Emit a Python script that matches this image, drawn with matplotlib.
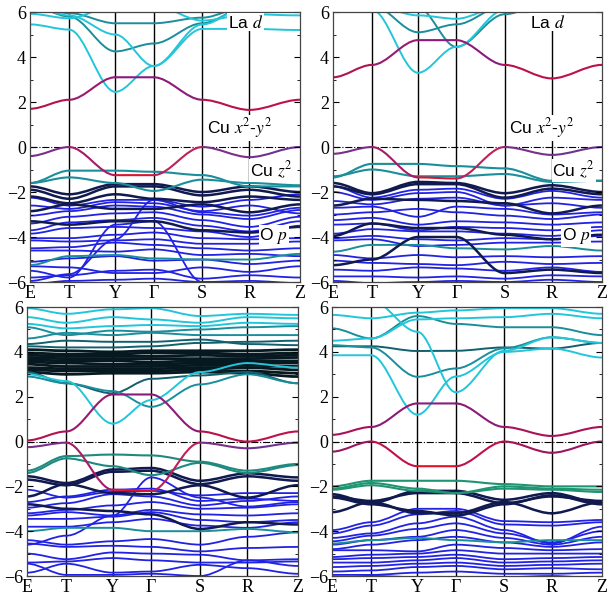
import matplotlib
matplotlib.use('Agg')
import matplotlib.pyplot as plt
from matplotlib.path import Path
from matplotlib.patches import PathPatch

plt.rcParams['mathtext.fontset'] = 'stix'

# high symmetry points along the path (fraction of path length)
kpos = [0.0, 0.145, 0.316, 0.458, 0.638, 0.813, 1.0]
klabels = ['E', 'T', 'Y', 'Γ', 'S', 'R', 'Z']

# colours for the orbital characters
col_cyan = '#22c6da'
col_teal = '#1a8e9a'
col_dteal = '#12606e'
col_navy = '#101a4e'
col_blue = '#2222e4'
col_green = '#1e9470'
col_black = '#061820'

# ---------------- panel (a) ----------------
a_cyan = [[5.92, 5.72, 6.3, 6.3, 5.62, 5.9, 5.85],
          [5.45, 5.22, 2.45, 3.6, 5.25, 5.25, 5.2],
          [6.3, 5.85, 5.0, 3.6, 5.45, 6.3, 6.3]]
a_teal = [[6.3, 5.8, 4.25, 4.6, 5.5, 6.3, 6.3],
          [6.3, 5.95, 5.5, 5.5, 5.75, 6.3, 6.3]]
a_cu_up = [1.7, 2.1, 3.1, 3.1, 2.1, 1.65, 2.1]
a_cu_dn = [-0.4, 0.0, -1.25, -1.25, 0.0, -0.45, 0.0]
a_z2 = [[-1.6, -1.05, -1.05, -1.1, -1.25, -1.75, -1.75],
        [-1.6, -1.35, -1.6, -1.95, -1.45, -1.6, -1.7]]
a_navy = [[-1.75, -2.1, -1.65, -1.65, -2.0, -1.75, -2.0],
          [-1.9, -2.3, -1.75, -1.75, -2.15, -1.9, -2.2],
          [-2.2, -2.5, -2.1, -2.3, -2.45, -2.2, -2.35],
          [-2.85, -2.55, -2.75, -2.75, -2.55, -2.9, -2.55],
          [-3.3, -3.45, -3.3, -3.3, -3.7, -3.8, -3.55]]
a_blue = [[-2.25, -2.6, -2.35, -2.35, -2.65, -2.35, -2.1],
          [-2.6, -2.75, -2.45, -2.5, -2.85, -2.6, -2.95],
          [-3.05, -2.85, -2.6, -2.65, -3.0, -3.2, -2.8],
          [-3.4, -3.1, -2.95, -2.9, -3.25, -3.55, -3.1],
          [-3.7, -3.35, -3.25, -3.15, -3.5, -3.75, -3.3],
          [-3.85, -3.6, -3.55, -3.6, -3.75, -4.0, -3.5],
          [-4.05, -4.05, -3.9, -3.8, -4.05, -4.1, -4.05],
          [-4.15, -4.2, -4.15, -4.1, -4.3, -4.3, -4.2],
          [-4.5, -4.45, -4.25, -4.35, -4.5, -4.6, -4.5],
          [-4.6, -4.6, -4.65, -4.55, -4.8, -4.75, -4.85],
          [-5.1, -4.95, -4.85, -5.05, -5.0, -5.2, -5.05],
          [-5.3, -5.35, -5.6, -5.6, -5.35, -5.55, -5.3],
          [-5.8, -5.7, -5.5, -5.45, -5.85, -5.7, -5.8],
          [-6.1, -5.95, -5.9, -5.85, -6.0, -5.95, -6.05],
          [-5.95, -5.65, -4.1, -2.35, -2.9, -3.05, -2.7],
          [-5.5, -5.8, -3.45, -3.3, -6.0, -6.1, -6.1]]
a_teal_low = [[-5.25, -4.85, -4.8, -4.95, -5.0, -5.0, -4.75]]

# ---------------- panel (b) ----------------
b_cyan = [[6.4, 6.1, 3.3, 4.45, 6.1, 6.5, 6.5],
          [6.4, 6.3, 5.85, 5.7, 6.3, 6.5, 6.5]]
b_teal = [[6.4, 6.3, 5.1, 5.45, 6.3, 6.5, 6.5],
          [6.5, 6.5, 6.2, 4.45, 5.9, 6.5, 6.5]]
b_cu_up = [3.1, 3.65, 4.75, 4.75, 3.65, 3.05, 3.65]
b_cu_dn = [-0.3, 0.0, -1.35, -1.4, 0.0, -0.35, 0.0]
b_z2 = [[-1.35, -0.75, -0.75, -0.85, -0.95, -1.5, -1.5],
        [-1.3, -1.0, -1.3, -1.3, -1.2, -1.55, -1.5]]
b_navy = [[-1.6, -2.05, -1.55, -1.6, -2.05, -1.7, -2.0],
          [-1.75, -2.1, -1.65, -1.65, -2.25, -1.85, -2.1],
          [-2.6, -2.3, -2.35, -2.4, -2.5, -2.95, -2.6],
          [-3.95, -3.4, -3.6, -3.6, -3.9, -4.1, -3.9],
          [-5.25, -5.0, -4.0, -4.0, -5.6, -5.45, -5.6]]
b_blue = [[-1.75, -2.25, -1.9, -1.85, -2.3, -1.95, -2.25],
          [-2.0, -2.35, -2.05, -2.0, -2.6, -2.25, -2.35],
          [-2.4, -2.55, -2.3, -2.25, -2.6, -2.5, -2.7],
          [-2.7, -2.65, -3.1, -2.65, -2.75, -3.0, -2.9],
          [-3.0, -2.9, -2.75, -2.9, -3.05, -3.2, -3.0],
          [-3.25, -3.15, -3.45, -3.3, -3.35, -3.45, -3.35],
          [-3.45, -3.4, -3.7, -3.55, -3.6, -3.7, -3.55],
          [-3.85, -3.65, -3.75, -3.75, -3.85, -3.95, -3.7],
          [-4.05, -3.95, -4.1, -4.15, -4.05, -4.1, -3.95],
          [-4.15, -4.1, -4.4, -4.35, -4.25, -4.25, -4.2],
          [-4.8, -4.95, -4.8, -4.9, -4.85, -4.9, -4.85],
          [-5.05, -5.15, -5.2, -5.25, -5.1, -5.2, -5.15],
          [-5.45, -5.5, -5.35, -5.4, -5.5, -5.35, -5.55],
          [-5.75, -5.75, -5.8, -5.75, -5.85, -5.7, -5.75],
          [-5.95, -6.05, -6.0, -5.95, -6.0, -5.9, -6.0]]
b_teal_low = [[-4.65, -4.35, -4.35, -4.5, -4.55, -4.4, -4.6]]

# ---------------- panel (c) ----------------
c_black = [[4.1, 4.05, 4.0, 4.05, 4.05, 4.05, 4.1],
           [3.95, 3.9, 3.9, 3.95, 3.95, 3.9, 3.95],
           [3.85, 3.8, 3.8, 3.8, 3.85, 3.8, 3.85],
           [3.75, 3.7, 3.7, 3.7, 3.7, 3.7, 3.75],
           [3.65, 3.6, 3.6, 3.55, 3.6, 3.6, 3.6],
           [3.55, 3.5, 3.45, 3.45, 3.5, 3.5, 3.5],
           [3.45, 3.35, 3.35, 3.35, 3.4, 3.4, 3.35],
           [3.3, 3.25, 3.25, 3.25, 3.3, 3.3, 3.2],
           [3.2, 3.15, 3.15, 3.15, 3.2, 3.15, 3.05],
           [3.1, 3.0, 3.05, 3.05, 3.1, 3.05, 2.9]]
c_cyan = [[5.95, 5.7, 5.9, 5.95, 5.6, 5.7, 5.65],
          [5.55, 5.3, 5.55, 5.45, 5.3, 5.55, 5.5],
          [5.25, 5.05, 5.15, 5.2, 5.15, 5.3, 5.25],
          [3.0, 2.7, 0.8, 1.85, 3.1, 3.5, 3.3]]
c_teal = [[5.1, 4.75, 4.95, 4.9, 5.0, 5.1, 5.15],
          [4.6, 4.85, 4.75, 4.85, 4.75, 4.75, 4.75],
          [2.9, 2.6, 2.25, 1.55, 2.55, 3.0, 2.6]]
c_dteal = [[4.35, 4.5, 4.45, 4.45, 4.55, 4.35, 4.3],
           [4.25, 4.2, 4.2, 4.25, 4.4, 4.45, 4.5],
           [3.1, 2.6, 2.15, 2.8, 2.95, 3.1, 2.6]]
c_cu_up = [0.05, 0.45, 2.1, 2.1, 0.45, 0.0, 0.45]
c_cu_dn = [-0.25, -0.05, -2.15, -2.2, -0.05, -0.3, -0.05]
c_z2 = [[-1.3, -0.65, -0.58, -0.62, -0.9, -1.3, -1.0],
        [-1.4, -0.75, -1.1, -1.5, -0.95, -1.4, -1.05]]
c_navy = [[-1.55, -1.85, -1.25, -1.18, -1.75, -1.42, -1.6],
          [-1.7, -1.95, -1.35, -1.3, -1.9, -1.55, -1.75],
          [-2.45, -1.9, -2.3, -2.35, -1.95, -2.5, -1.95],
          [-2.8, -3.0, -3.1, -3.25, -3.9, -3.6, -3.7]]
c_blue = [[-2.15, -2.5, -2.25, -2.2, -2.4, -2.3, -2.3],
          [-2.7, -2.45, -2.15, -2.1, -2.65, -2.55, -2.65],
          [-2.95, -2.75, -2.35, -2.45, -2.85, -2.65, -2.45],
          [-3.2, -3.05, -2.85, -2.7, -3.0, -2.95, -2.8],
          [-3.3, -3.15, -3.3, -3.05, -3.25, -3.3, -3.2],
          [-3.45, -3.45, -3.35, -3.15, -3.5, -3.6, -3.5],
          [-3.8, -3.8, -3.6, -3.45, -3.75, -3.85, -3.6],
          [-4.4, -4.6, -4.45, -4.35, -4.6, -4.25, -4.05],
          [-4.55, -4.7, -4.65, -4.7, -4.9, -4.75, -4.7],
          [-5.0, -5.25, -4.95, -5.0, -5.05, -5.3, -5.25],
          [-5.4, -5.35, -5.2, -5.3, -5.4, -5.4, -5.35],
          [-5.45, -5.95, -5.95, -5.9, -6.0, -5.3, -5.55],
          [-5.85, -5.45, -5.85, -5.8, -5.5, -5.65, -5.9],
          [-4.6, -4.2, -3.3, -1.6, -2.5, -2.9, -2.7]]
c_teal_low = [[-4.0, -3.85, -3.85, -4.0, -4.0, -3.9, -4.05]]

# ---------------- panel (d) ----------------
d_cyan = [[5.65, 5.5, 5.75, 5.85, 5.95, 5.95, 5.7],
          [4.5, 4.6, 5.45, 5.5, 5.55, 5.7, 5.5],
          [3.85, 3.85, 1.2, 2.9, 4.0, 4.15, 3.75],
          [6.3, 6.3, 4.9, 2.2, 4.05, 4.65, 4.4]]
d_teal = [[5.05, 4.6, 5.6, 5.25, 5.1, 5.1, 4.75],
          [4.3, 4.2, 2.89, 3.26, 4.16, 4.65, 4.4]]
d_dteal = [[4.25, 4.25, 4.04, 4.05, 4.2, 4.15, 4.4]]
d_cu_up = [0.3, 0.65, 1.7, 1.7, 0.65, 0.25, 0.65]
d_cu_dn = [-0.45, 0.0, -1.1, -1.1, 0.0, -0.5, 0.0]
d_z2 = [[-2.0, -1.75, -1.75, -1.75, -1.9, -2.0, -2.0],
        [-2.1, -1.85, -2.1, -2.3, -2.0, -2.1, -2.15],
        [-2.15, -1.95, -2.2, -2.3, -2.1, -2.15, -2.25]]
d_navy = [[-2.35, -2.75, -2.2, -2.2, -2.6, -2.3, -2.75],
          [-2.45, -2.65, -2.3, -2.3, -2.75, -2.45, -2.65],
          [-3.15, -2.7, -3.2, -3.2, -2.7, -3.2, -2.7],
          [-2.5, -2.8, -3.1, -3.3, -2.8, -2.4, -2.8]]
d_blue = [[-3.95, -3.6, -3.0, -3.0, -3.55, -3.6, -3.5],
          [-4.1, -3.75, -3.25, -3.1, -3.7, -3.75, -3.6],
          [-4.3, -4.1, -3.65, -3.35, -3.95, -4.55, -3.8],
          [-4.45, -4.2, -3.9, -3.65, -4.1, -4.5, -4.0],
          [-4.6, -4.4, -4.25, -3.95, -4.3, -4.6, -4.25],
          [-4.8, -4.6, -4.4, -4.25, -4.5, -4.7, -4.5],
          [-4.85, -4.85, -4.9, -4.6, -4.75, -4.85, -4.8],
          [-5.15, -5.05, -5.0, -4.85, -5.0, -5.0, -5.0],
          [-5.25, -5.2, -5.15, -5.05, -5.25, -5.2, -5.15],
          [-5.4, -5.4, -5.3, -5.2, -5.4, -5.35, -5.3],
          [-5.6, -5.55, -5.45, -5.4, -5.55, -5.5, -5.45],
          [-5.8, -5.75, -5.6, -5.55, -5.7, -5.65, -5.7],
          [-5.95, -5.95, -5.85, -5.8, -5.9, -5.9, -5.85],
          [-6.1, -6.0, -6.05, -6.1, -6.05, -6.0, -6.1]]
d_teal_low = [[-4.55, -4.4, -4.3, -4.4, -4.5, -4.4, -4.4]]

# segment colours of the two Cu bands (E-T, T-Y, Y-G, G-S, S-R, R-Z)
cu_up_cols = ['#b0144e', '#9a1a6e', '#8a1a80', '#8e1a7a', '#b81248', '#c0104a']
cu_dn_cols = ['#7a2f88', '#a81a66', '#e01030', '#c0205a', '#7a2f88', '#6c3490']
d_cu_up_cols = ['#a8125a', '#8e1a78', '#84207f', '#8e1a78', '#a8125a', '#a8125a']
d_cu_dn_cols = ['#9a1660', '#c01248', '#e81020', '#c01248', '#a01458', '#9a1660']


def seg_path(x0, x1, e0, e1):
    # smooth segment, flat at the high-symmetry points
    d = (x1 - x0) / 3.0
    return Path([(x0, e0), (x0 + d, e0), (x1 - d, e1), (x1, e1)],
                [Path.MOVETO, Path.CURVE4, Path.CURVE4, Path.CURVE4])


def draw_band(ax, e, color, lw=1.3):
    cols = color if isinstance(color, list) else [color] * (len(kpos) - 1)
    for i in range(len(kpos) - 1):
        p = seg_path(kpos[i], kpos[i + 1], e[i], e[i + 1])
        ax.add_patch(PathPatch(p, fill=False, edgecolor=cols[i], lw=lw,
                               capstyle='round', joinstyle='round'))


def setup_axes(ax):
    ax.set_xlim(0, 1)
    ax.set_ylim(-6, 6)
    for x in kpos[1:-1]:
        ax.axvline(x, color='k', lw=1.0, zorder=0.5)
    ax.axhline(0, color='k', lw=0.8, ls='-.', zorder=0.6)
    ax.set_xticks(kpos)
    ax.set_xticklabels(klabels, family='Liberation Serif', fontsize=13)
    ax.set_yticks([-6, -4, -2, 0, 2, 4, 6])
    ax.set_yticklabels(['\u22126', '\u22124', '\u22122', '0', '2', '4', '6'],
                       family='Liberation Serif', fontsize=13)
    ax.set_yticks([-5, -3, -1, 1, 3, 5], minor=True)
    ax.tick_params(axis='x', length=0, pad=2)
    ax.tick_params(axis='y', which='both', direction='in', right=True, pad=3)
    ax.tick_params(axis='y', which='major', length=4)
    ax.tick_params(axis='y', which='minor', length=2.5)
    for s in ax.spines.values():
        s.set_color('#444444')
        s.set_linewidth(0.9)


def panel(ax, blue, teal_low, navy, z2, cyan, teal, cu_up, cu_dn,
          dteal=None, black=None, z2col=col_teal,
          up_cols=cu_up_cols, dn_cols=cu_dn_cols):
    for e in blue:
        draw_band(ax, e, col_blue, 1.3)
    for e in teal_low:
        draw_band(ax, e, col_teal, 1.4)
    for e in navy:
        draw_band(ax, e, col_navy, 1.8)
    for e in z2:
        draw_band(ax, e, z2col, 1.5)
    if black is not None:
        for e in black:
            draw_band(ax, e, col_black, 2.0)
    if dteal is not None:
        for e in dteal:
            draw_band(ax, e, col_dteal, 1.4)
    for e in teal:
        draw_band(ax, e, col_teal, 1.4)
    for e in cyan:
        draw_band(ax, e, col_cyan, 1.4)
    draw_band(ax, cu_up, up_cols, 1.5)
    draw_band(ax, cu_dn, dn_cols, 1.5)
    setup_axes(ax)


def labels(ax):
    box = dict(facecolor='white', edgecolor='none', pad=0.5)
    kw = dict(fontsize=12.5, family='Liberation Sans', va='center',
              ha='left', bbox=box, zorder=5)
    ax.text(0.733, 5.55, 'La $d$', **kw)
    ax.text(0.655, 0.85, 'Cu $x^2$-$y^2$', **kw)
    ax.text(0.815, -1.05, 'Cu $z^2$', **kw)
    ax.text(0.85, -3.95, 'O $p$', **kw)


fig = plt.figure(figsize=(6.07, 5.95), dpi=100)
ax_a = fig.add_axes([0.0494, 0.526, 0.4448, 0.4538])
ax_b = fig.add_axes([0.5486, 0.526, 0.4432, 0.4538])
ax_c = fig.add_axes([0.0445, 0.0319, 0.4465, 0.452])
ax_d = fig.add_axes([0.547, 0.0319, 0.4448, 0.452])

panel(ax_a, a_blue, a_teal_low, a_navy, a_z2, a_cyan, a_teal, a_cu_up, a_cu_dn)
panel(ax_b, b_blue, b_teal_low, b_navy, b_z2, b_cyan, b_teal, b_cu_up, b_cu_dn)
panel(ax_c, c_blue, c_teal_low, c_navy, c_z2, c_cyan, c_teal, c_cu_up, c_cu_dn,
      dteal=c_dteal, black=c_black, z2col='#1e8a7e')
panel(ax_d, d_blue, d_teal_low, d_navy, d_z2, d_cyan, d_teal, d_cu_up, d_cu_dn,
      dteal=d_dteal, z2col=col_green, up_cols=d_cu_up_cols, dn_cols=d_cu_dn_cols)

labels(ax_a)
labels(ax_b)

fig.savefig('out.png', dpi=100)
